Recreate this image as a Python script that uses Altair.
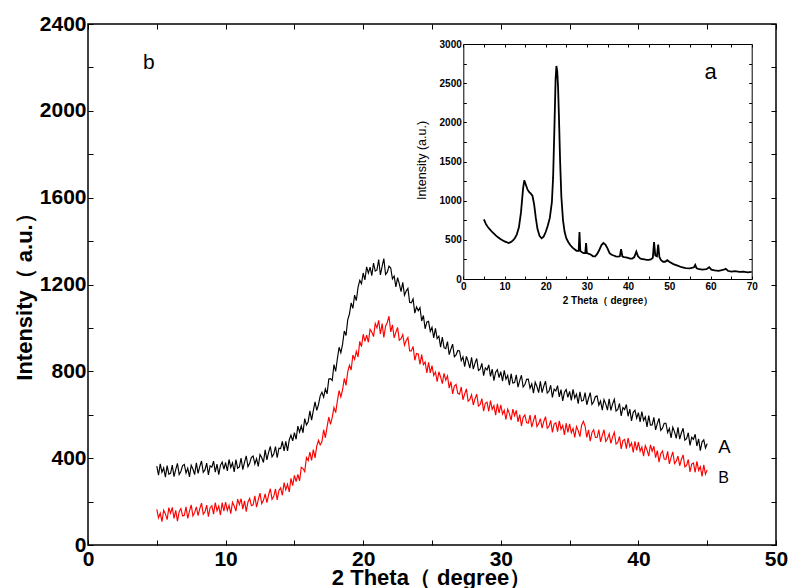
import altair as alt
import pandas as pd

# ---------------- data ----------------
# main panel b: curves A (black) and B (red), sampled every 0.125 degree from 5 to 45
A_values = [
    363, 322, 374, 335, 355, 312, 366, 326,   # 5
    330, 368, 315, 347, 376, 325, 339, 366,   # 6
    371, 331, 354, 314, 367, 350, 324, 379,   # 7
    330, 362, 387, 335, 346, 377, 323, 364,   # 8
    359, 386, 336, 373, 324, 367, 382, 349,   # 9
    380, 341, 394, 357, 378, 337, 393, 354,   # 10
    360, 400, 347, 381, 411, 361, 376, 404,   # 11
    410, 373, 398, 362, 417, 403, 380, 438,   # 12
    392, 427, 454, 406, 419, 453, 402, 446,   # 13
    444, 477, 434, 477, 434, 484, 506, 480,   # 14
    518, 487, 548, 520, 549, 517, 582, 553,   # 15
    568, 618, 575, 619, 659, 620, 647, 687,   # 16
    704, 681, 719, 696, 765, 766, 758, 831,   # 17
    800, 859, 911, 886, 924, 986, 965, 1037,  # 18
    1064, 1115, 1090, 1151, 1126, 1187, 1219, 1204,  # 19
    1253, 1221, 1281, 1252, 1280, 1241, 1299, 1262,  # 20
    1267, 1315, 1244, 1284, 1319, 1246, 1257, 1285,  # 21
    1276, 1226, 1239, 1189, 1232, 1203, 1167, 1210,  # 22
    1150, 1170, 1182, 1118, 1116, 1134, 1068, 1097,  # 23
    1079, 1094, 1032, 1057, 996, 1027, 1030, 984,    # 24
    1003, 954, 998, 951, 962, 911, 958, 909,   # 25
    905, 937, 877, 903, 925, 867, 876, 896,    # 26
    894, 849, 866, 822, 869, 846, 815, 865,    # 27
    810, 838, 859, 804, 810, 837, 780, 816,    # 28
    807, 830, 777, 810, 757, 796, 808, 771,    # 29
    798, 755, 805, 764, 781, 736, 789, 746,    # 30
    748, 784, 727, 757, 782, 728, 739, 763,    # 31
    764, 722, 742, 700, 750, 730, 702, 754,    # 32
    702, 732, 754, 700, 708, 736, 680, 718,    # 33
    710, 734, 682, 716, 664, 704, 716, 680,    # 34
    708, 666, 717, 677, 695, 651, 705, 663,    # 35
    666, 702, 646, 676, 702, 648, 660, 684,    # 36
    686, 644, 663, 621, 670, 650, 621, 673,    # 37
    620, 650, 671, 617, 624, 652, 595, 633,    # 38
    624, 647, 593, 626, 572, 611, 621, 584,    # 39
    610, 567, 615, 574, 590, 544, 596, 552,    # 40
    553, 588, 530, 559, 583, 528, 538, 561,    # 41
    561, 518, 537, 493, 542, 521, 491, 542,    # 42
    488, 517, 538, 483, 490, 517, 459, 496,    # 43
    487, 510, 456, 489, 435, 474, 484, 447,    # 44
    467,                                       # 45
]
B_values = [
    164, 125, 147, 108, 160, 143, 117, 172,   # 5
    146, 173, 123, 160, 110, 153, 168, 134,   # 6
    137, 176, 123, 156, 185, 134, 149, 176,   # 7
    135, 168, 193, 142, 153, 184, 131, 172,   # 8
    181, 142, 195, 158, 179, 138, 195, 156,   # 9
    198, 159, 183, 144, 197, 180, 156, 211,   # 10
    186, 214, 165, 203, 154, 198, 214, 181,   # 11
    185, 226, 174, 209, 239, 190, 206, 235,   # 12
    195, 231, 259, 210, 224, 258, 208, 251,   # 13
    263, 229, 287, 254, 280, 245, 307, 273,   # 14
    321, 292, 325, 295, 358, 352, 338, 403,   # 15
    389, 428, 390, 439, 401, 456, 482, 461,   # 16
    475, 531, 494, 544, 589, 556, 589, 633,   # 17
    610, 665, 711, 682, 714, 767, 735, 798,   # 18
    828, 806, 875, 855, 892, 866, 938, 914,   # 19
    971, 938, 967, 934, 993, 981, 960, 1020,  # 20
    1000, 1035, 972, 1020, 956, 1008, 1025, 1054,  # 21
    982, 1014, 954, 980, 1002, 943, 950, 969,  # 22
    920, 942, 956, 894, 894, 915, 851, 882,   # 23
    880, 832, 877, 831, 843, 793, 841, 793,   # 24
    826, 781, 797, 752, 798, 774, 743, 791,   # 25
    759, 779, 723, 752, 696, 732, 740, 699,   # 26
    695, 728, 669, 696, 719, 662, 671, 692,   # 27
    645, 674, 695, 640, 647, 674, 617, 653,   # 28
    658, 616, 665, 625, 642, 598, 650, 608,   # 29
    646, 603, 621, 578, 626, 605, 575, 626,   # 30
    596, 620, 567, 601, 548, 588, 599, 563,   # 31
    562, 598, 543, 573, 599, 545, 558, 582,   # 32
    538, 569, 591, 538, 546, 574, 519, 557,   # 33
    563, 522, 572, 533, 551, 507, 561, 519,   # 34
    558, 517, 537, 496, 546, 527, 499, 552,   # 35
    570, 548, 496, 530, 478, 518, 531, 495,   # 36
    495, 531, 475, 505, 531, 477, 489, 512,   # 37
    468, 498, 519, 465, 472, 500, 443, 481,   # 38
    486, 444, 493, 453, 470, 426, 478, 436,   # 39
    474, 432, 451, 409, 458, 438, 409, 461,   # 40
    432, 455, 402, 435, 382, 421, 433, 396,   # 41
    395, 431, 374, 404, 429, 375, 386, 410,   # 42
    365, 394, 415, 360, 367, 394, 337, 373,   # 43
    378, 335, 385, 344, 361, 316, 369, 326,   # 44
    346,                                      # 45
]
x_main = [round(5 + 0.125 * i, 3) for i in range(len(A_values))]

# inset panel a
inset_x = [5, 5.5, 6, 6.5, 7, 7.5, 8, 8.5, 9, 9.5, 10, 10.5, 11, 11.5, 12, 12.5, 13, 13.5,
           14, 14.5, 14.8, 15.2, 15.6, 16, 16.4, 16.8, 17.2, 17.6, 18, 18.5, 19, 19.5,
           20, 20.5, 21, 21.5, 21.8, 22.1, 22.4, 22.6, 22.8, 23.0, 23.2, 23.5, 23.8,
           24.2, 24.6, 25, 25.5, 26, 26.5, 27, 27.5, 28.0, 28.2, 28.4, 28.8, 29.2, 29.6,
           29.8, 30.0, 30.5, 31, 31.5, 32, 32.5, 33, 33.5, 34, 34.5, 35, 35.5, 36, 36.5,
           37, 37.5, 38, 38.3, 38.6, 39, 39.5, 40, 40.5, 41, 41.5, 42, 42.4, 43, 43.5,
           44, 44.5, 45, 45.5, 46, 46.3, 46.6, 47, 47.3, 47.6, 48, 48.5, 49, 49.5, 50,
           51, 52, 53, 54, 55, 56, 56.3, 56.6, 57, 58, 59, 59.7, 60.2, 61, 62, 63, 63.7,
           64.2, 65, 66, 67, 68, 69, 70]
inset_y = [760, 700, 660, 630, 600, 575, 550, 530, 510, 495, 480, 470, 460, 470, 490, 520, 570, 660,
           850, 1150, 1260, 1200, 1140, 1110, 1090, 1060, 950, 780, 640, 550, 520, 540,
           600, 680, 780, 980, 1300, 1900, 2550, 2720, 2650, 2450, 2100, 1500, 1050,
           750, 600, 520, 470, 430, 400, 380, 360, 360, 600, 360, 340, 330, 330,
           460, 330, 320, 310, 290, 290, 320, 370, 430, 460, 440, 390, 330, 310, 300,
           290, 285, 290, 380, 290, 280, 275, 270, 260, 260, 280, 350, 290, 260, 255,
           250, 245, 245, 250, 270, 470, 300, 290, 440, 280, 240, 220, 220, 240, 220,
           190, 170, 150, 140, 135, 150, 180, 140, 130, 120, 125, 150, 120, 110, 105, 115, 130,
           105, 95, 100, 90, 95, 85, 90]

main_x_labels = [0, 10, 20, 30, 40, 50]
main_x_ticks = [0, 5, 10, 15, 20, 25, 30, 35, 40, 45, 50]
main_y_labels = [0, 400, 800, 1200, 1600, 2000, 2400]
main_y_ticks = list(range(0, 2401, 200))
inset_x_labels = [0, 10, 20, 30, 40, 50, 60, 70]
inset_x_ticks = list(range(0, 71, 5))
inset_y_labels = [0, 500, 1000, 1500, 2000, 2500, 3000]
inset_y_ticks = list(range(0, 3001, 250))

labels_df = pd.DataFrame({"x": [4.0, 45.8, 45.8], "y": [2221, 451, 309], "t": ["b", "A", "B"]})
inset_label_df = pd.DataFrame({"x": [60.0], "y": [2640], "t": ["a"]})

# ---------------- layout ----------------
W, H = 688, 521
IX0, IX1 = 375.3, 663.7   # inset plot box (pixels inside the main plot area)
IY0, IY1 = 20, 255
FONT = "Liberation Sans"

df_A = pd.DataFrame({"x": x_main, "y": A_values})
df_B = pd.DataFrame({"x": x_main, "y": B_values})
df_in = pd.DataFrame({"x": inset_x, "y": inset_y})
df_main_dom = pd.DataFrame({"x": [0, 50], "y": [0, 2400]})
df_in_dom = pd.DataFrame({"x": [0, 70], "y": [0, 3000]})

xs_main = alt.Scale(domain=[0, 50], nice=False, zero=False)
ys_main = alt.Scale(domain=[0, 2400], nice=False)
xs_in = alt.Scale(domain=[0, 70], range=[IX0, IX1], nice=False, zero=False)
ys_in = alt.Scale(domain=[0, 3000], range=[IY1, IY0], nice=False)


def ax(orient, values, offset=0, labels=False, ticks=True, domain=False, tick_size=4, **kw):
    d = dict(orient=orient, values=values, offset=offset, labels=labels, ticks=ticks,
             domain=domain, grid=False, title=None, tickColor="black", tickWidth=1,
             tickSize=tick_size, domainColor="black", domainWidth=1,
             labelFont=FONT, labelColor="black", labelFlush=False, labelOverlap=False,
             labelBound=False, format="d")
    d.update(kw)
    return alt.Axis(**d)


# main curves with labelled axes
lay_B = alt.Chart(df_B).mark_line(color="#ff0000", strokeWidth=1.15).encode(
    x=alt.X("x:Q", scale=xs_main,
            axis=ax("top", main_x_ticks, offset=-H, tick_size=5)),
    y=alt.Y("y:Q", scale=ys_main,
            axis=ax("right", main_y_ticks, offset=-W, tick_size=5)),
)
lay_A = alt.Chart(df_A).mark_line(color="black", strokeWidth=1.15).encode(
    x=alt.X("x:Q", scale=xs_main,
            axis=ax("bottom", main_x_labels, labels=True, ticks=False,
                    labelFontSize=21, labelFontWeight="bold", labelPadding=3,
                    title="2 Theta（ degree）", titleFont=FONT, titleFontSize=22,
                    titleFontWeight="bold", titleColor="black", titleX=343, titleY=39,
                    titleAlign="center", titleBaseline="alphabetic")),
    y=alt.Y("y:Q", scale=ys_main,
            axis=ax("left", main_y_labels, labels=True, ticks=False,
                    labelFontSize=21, labelFontWeight="bold", labelPadding=2,
                    title="Intensity（ a.u.）", titleFont=FONT, titleFontSize=22,
                    titleFontWeight="bold", titleColor="black", titleX=-57, titleY=267,
                    titleAngle=270, titleAlign="center", titleBaseline="alphabetic")),
)
# main top / right inward ticks
lay_main_tr = alt.Chart(df_main_dom).mark_point(opacity=0).encode(
    x=alt.X("x:Q", scale=xs_main, axis=ax("bottom", main_x_ticks, offset=-H, tick_size=5)),
    y=alt.Y("y:Q", scale=ys_main, axis=ax("left", main_y_ticks, offset=-W, tick_size=5)),
)
lay_text = alt.Chart(labels_df).mark_text(font=FONT, fontSize=18, color="black",
                                          align="left", baseline="middle").encode(
    x=alt.X("x:Q", scale=xs_main, axis=None),
    y=alt.Y("y:Q", scale=ys_main, axis=None),
    text="t:N",
    size=alt.Size("t:N", scale=alt.Scale(domain=["b", "A", "B"], range=[21, 16, 16]), legend=None),
)

# inset
lay_in = alt.Chart(df_in).mark_line(color="black", strokeWidth=1.8).encode(
    x=alt.X("x:Q", scale=xs_in,
            axis=ax("bottom", inset_x_labels, offset=IY1 - H, labels=True, ticks=False,
                    domain=True, labelFontSize=10, labelFontWeight="bold", labelPadding=2,
                    title="2 Theta（ degree）", titleFont=FONT, titleFontSize=10,
                    titleFontWeight="bold", titleColor="black",
                    titleX=(IX0 + IX1) / 2, titleY=24, titleAlign="center",
                    titleBaseline="alphabetic")),
    y=alt.Y("y:Q", scale=ys_in,
            axis=ax("left", inset_y_labels, offset=-IX0, labels=True, ticks=False,
                    domain=True, labelFontSize=10, labelFontWeight="bold", labelPadding=2,
                    title="Intensity (a.u.)", titleFont=FONT, titleFontSize=12.5,
                    titleFontWeight="normal", titleColor="black",
                    titleX=-38, titleY=136, titleAngle=270,
                    titleAlign="center", titleBaseline="alphabetic")),
)
lay_in_bl = alt.Chart(df_in_dom).mark_point(opacity=0).encode(
    x=alt.X("x:Q", scale=xs_in, axis=ax("top", inset_x_ticks, offset=-IY1, tick_size=3)),
    y=alt.Y("y:Q", scale=ys_in, axis=ax("right", inset_y_ticks, offset=IX0 - W, tick_size=3)),
)
lay_in_tr = alt.Chart(df_in_dom).mark_point(opacity=0).encode(
    x=alt.X("x:Q", scale=xs_in, axis=ax("bottom", inset_x_ticks, offset=IY0 - H,
                                         domain=True, tick_size=3)),
    y=alt.Y("y:Q", scale=ys_in, axis=ax("left", inset_y_ticks, offset=-IX1,
                                         domain=True, tick_size=3)),
)
lay_in_text = alt.Chart(inset_label_df).mark_text(font=FONT, fontSize=22, color="black",
                                                  align="center", baseline="middle").encode(
    x=alt.X("x:Q", scale=xs_in, axis=None),
    y=alt.Y("y:Q", scale=ys_in, axis=None),
    text="t:N",
)

chart = alt.layer(
    lay_B, lay_A, lay_main_tr, lay_text, lay_in, lay_in_bl, lay_in_tr, lay_in_text
).resolve_scale(
    x="independent", y="independent", size="independent"
).resolve_axis(
    x="independent", y="independent"
).properties(
    width=W, height=H,
    autosize=alt.AutoSizeParams(type="none"),
    padding={"left": 88, "top": 24, "right": 13, "bottom": 43},
    background="white",
).configure_view(stroke="black", strokeWidth=1.5)

chart.save("out.html", embed_options={"renderer": "svg", "actions": False})
